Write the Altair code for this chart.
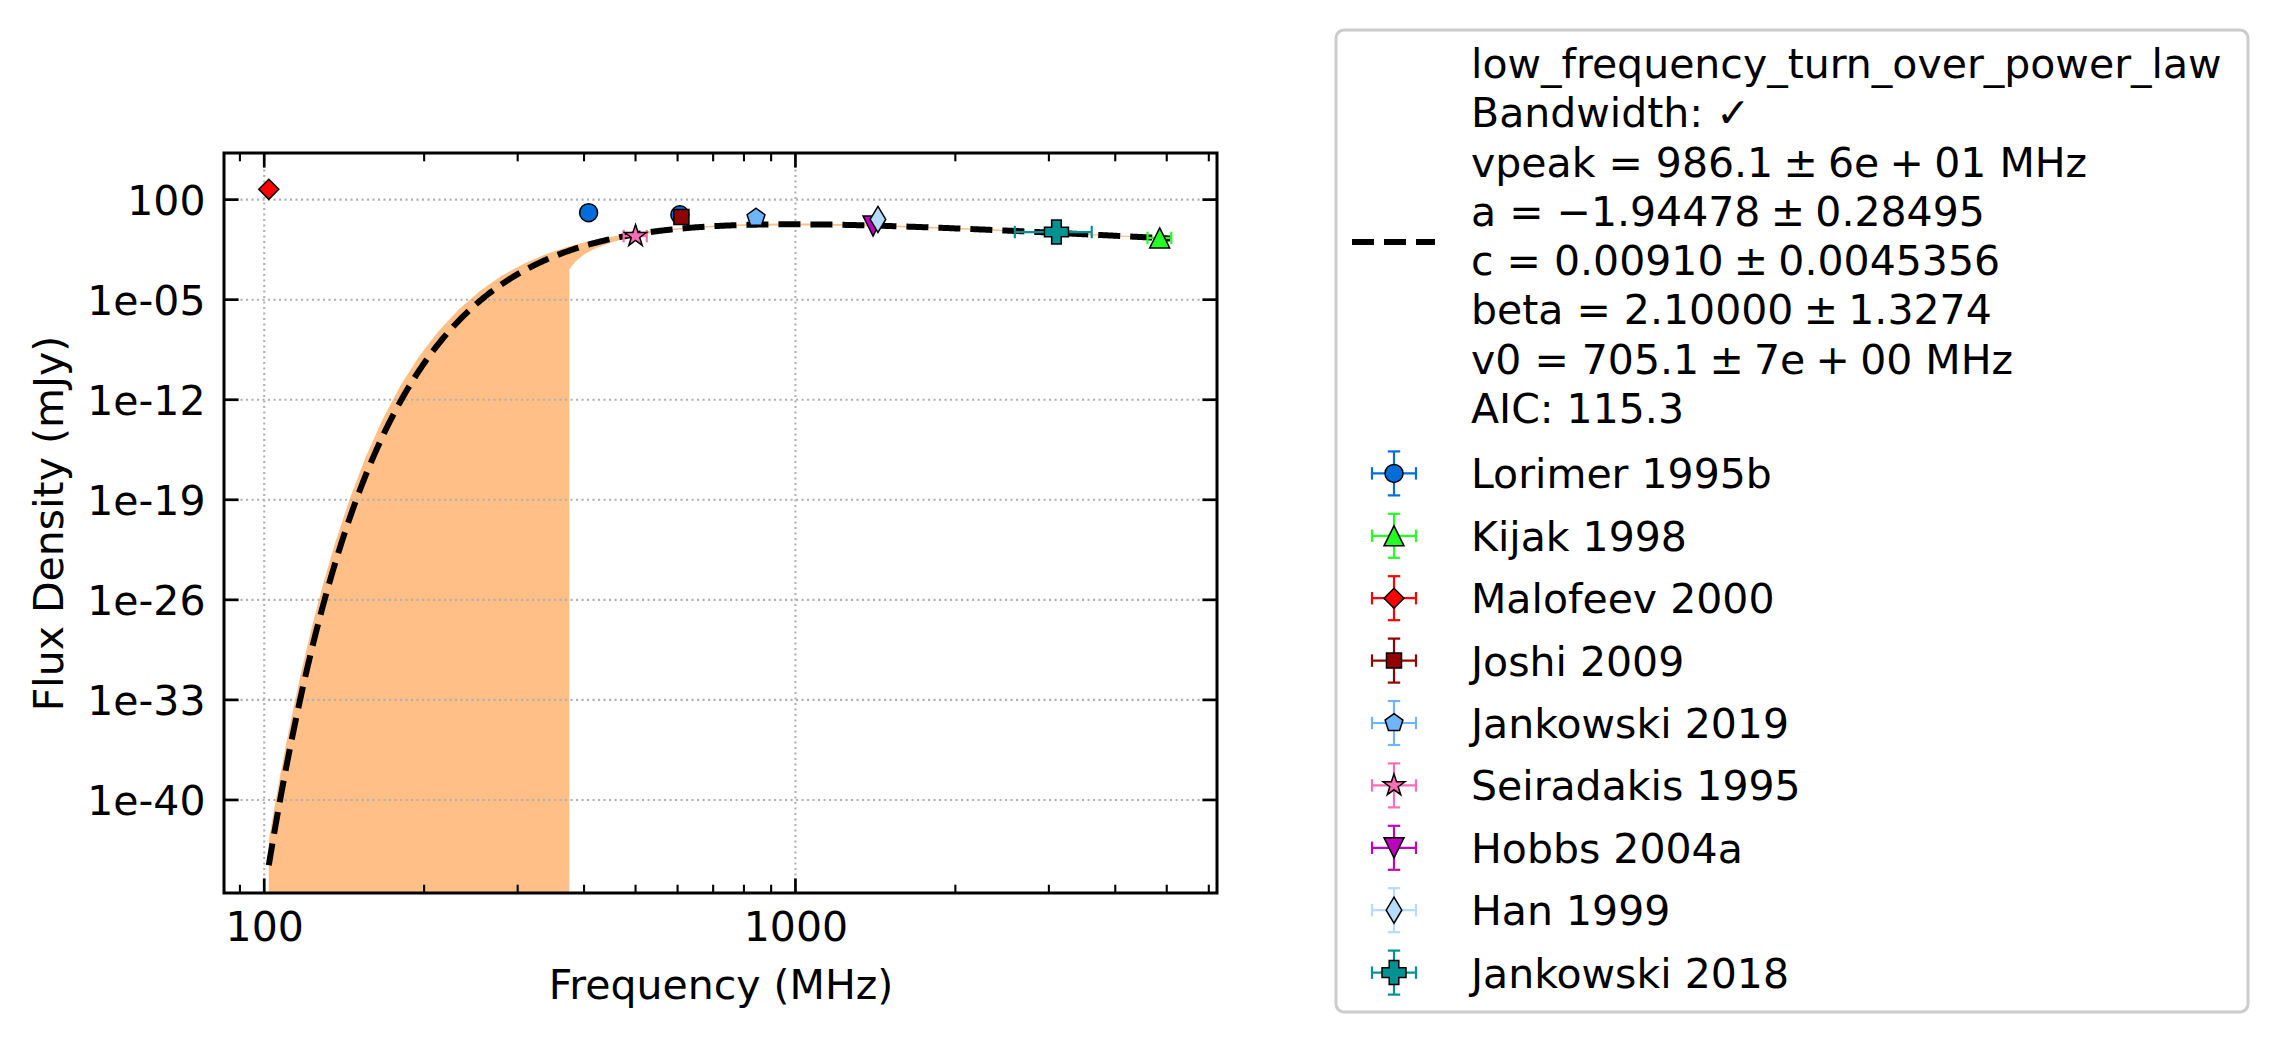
import altair as alt
import numpy as np
import pandas as pd

FONT = "DejaVu Sans"
FS = 41

# ---------------- data ----------------
sources = ["Lorimer 1995b", "Kijak 1998", "Malofeev 2000", "Joshi 2009",
           "Jankowski 2019", "Seiradakis 1995", "Hobbs 2004a", "Han 1999",
           "Jankowski 2018"]
colors = ["#006ddb", "#24ff24", "#ff0000", "#920000", "#6db6ff",
          "#ff6db6", "#bf00bf", "#b6dbff", "#009292"]

pt_source = ["Lorimer 1995b", "Lorimer 1995b", "Kijak 1998", "Malofeev 2000",
             "Joshi 2009", "Jankowski 2019", "Seiradakis 1995", "Hobbs 2004a",
             "Han 1999", "Jankowski 2018"]
pt_freq = [408, 606, 4850, 102, 610, 843, 500, 1400, 1430, 3100]
pt_flux = [12.3, 8.7, 0.21, 525.0, 6.1, 5.5, 0.28, 1.4, 4.1, 0.54]
pt_freq_err = [0, 0, 250, 0, 0, 0, 25, 0, 0, 512]

# fitted model (parameters as printed in the legend)
fit_vpeak, fit_a, fit_c, fit_beta, fit_v0 = 986.1, -1.94478, 0.00910, 2.10000, 705.1
fit_freq_range = [102.0, 5080.0]
legend_lines = [
    "low_frequency_turn_over_power_law",
    "Bandwidth: \u2713",
    "vpeak = 986.1\u2005\u00b1\u20056e\u2005+\u200501 MHz",
    "a = \u22121.94478\u2005\u00b1\u20050.28495",
    "c = 0.00910\u2005\u00b1\u20050.0045356",
    "beta = 2.10000\u2005\u00b1\u20051.3274",
    "v0 = 705.1\u2005\u00b1\u20057e\u2005+\u200500 MHz",
    "AIC: 115.3",
]

# uncertainty band: relative (linear) error of the fit read at these frequencies
band_freq = [102, 104, 107, 110, 114, 118, 123, 129, 136, 145,
             155, 167, 180, 195, 212, 232, 255, 280, 310, 340,
             375.2, 375.3, 385, 400, 420, 448, 480, 520, 570, 640,
             720, 820, 950, 1100, 1300, 1600, 2000, 2600, 3300, 4100,
             5080]
band_rel_err = [55, 52, 49, 45, 41, 37, 33, 29, 25, 21,
                17.6, 14.2, 11.5, 9.0, 7.0, 5.3, 3.95, 2.9, 2.05, 1.45,
                1.0, 0.95, 0.88, 0.75, 0.6, 0.43, 0.3, 0.19, 0.12, 0.1,
                0.13, 0.15, 0.16, 0.16, 0.15, 0.135, 0.12, 0.11, 0.1, 0.1,
                0.1]

x_major = [100, 1000]
x_minor = [90, 200, 300, 400, 500, 600, 700, 800, 900,
           2000, 3000, 4000, 5000, 6000]
y_major = [1e2, 1e-5, 1e-12, 1e-19, 1e-26, 1e-33, 1e-40]


def model(v):
    v = np.asarray(v, dtype=float)
    return 1000.0 * fit_c * (v / fit_v0) ** fit_a * np.exp(
        fit_a / fit_beta * (v / fit_vpeak) ** (-fit_beta))


# ---------------- marker shapes ----------------
def poly(points):
    return "M" + "L".join(f"{x:.4f},{y:.4f}" for x, y in points) + "Z"


pent = poly([(np.sin(2 * np.pi * k / 5), -np.cos(2 * np.pi * k / 5)) for k in range(5)])
star = poly([((1.0 if k % 2 == 0 else 0.381966) * np.sin(np.pi * k / 5),
              -(1.0 if k % 2 == 0 else 0.381966) * np.cos(np.pi * k / 5)) for k in range(10)])
tri_up = "M0,-1L1,1L-1,1Z"
tri_down = "M0,1L1,-1L-1,-1Z"
thin_diamond = "M0,-1L0.6,0L0,1L-0.6,0Z"

marker_shape = {"Lorimer 1995b": "circle", "Kijak 1998": tri_up,
                "Malofeev 2000": "diamond", "Joshi 2009": "square",
                "Jankowski 2019": pent, "Seiradakis 1995": star,
                "Hobbs 2004a": tri_down, "Han 1999": thin_diamond,
                "Jankowski 2018": "cross"}
marker_size = {"Lorimer 1995b": 324, "Kijak 1998": 400, "Malofeev 2000": 400,
               "Joshi 2009": 225, "Jankowski 2019": 353, "Seiradakis 1995": 530,
               "Hobbs 2004a": 400, "Han 1999": 676, "Jankowski 2018": 576}

# ---------------- tables ----------------
pts = pd.DataFrame({"source": pt_source, "freq": pt_freq, "flux": pt_flux,
                    "xerr": pt_freq_err})
pts["xlo"] = pts["freq"] - pts["xerr"]
pts["xhi"] = pts["freq"] + pts["xerr"]
pts_err = pts[pts["xerr"] > 0]

fit_f = np.logspace(np.log10(fit_freq_range[0]), np.log10(fit_freq_range[1]), 700)
fit_df = pd.DataFrame({"f": fit_f, "s": model(fit_f)})

bf = np.array(band_freq, dtype=float)
br = np.array(band_rel_err, dtype=float)
bm = model(bf)
band_df = pd.DataFrame({"f": bf, "hi": bm * (1 + br),
                        "lo": np.where(br < 1, bm * (1 - br), 1e-60)})

# ---------------- layout ----------------
PL, PT = 224, 153
W, H = 993, 740

xs = alt.Scale(type="log", domain=[84.0, 6217.0], nice=False)
ys = alt.Scale(type="log", domain=[10 ** -46.51, 10 ** 5.262], nice=False)
cs = alt.Scale(domain=sources, range=colors)

XAX = alt.Axis(values=x_major, format="d", title="Frequency (MHz)",
               grid=False, ticks=False, domain=False,
               labelFont=FONT, labelFontSize=FS, labelColor="black",
               labelPadding=47.7, labelBaseline="alphabetic",
               labelFlush=False, labelOverlap=False, labelBound=False,
               titleFont=FONT, titleFontSize=FS, titleFontWeight="normal",
               titleColor="black", titleX=W / 2, titleY=105.7,
               titleBaseline="alphabetic", titleAlign="center")
YAX = alt.Axis(values=y_major,
               labelExpr="datum.value >= 1 ? format(datum.value, 'd') : "
                         "'1e-' + pad(format(round(-log(datum.value) / LN10), 'd'), 2, '0', 'left')",
               title="Flux Density (mJy)",
               grid=False, ticks=False, domain=False,
               labelFont=FONT, labelFontSize=FS, labelColor="black",
               labelPadding=19, labelBaseline="alphabetic", labelOffset=14.5,
               labelOverlap=False, labelBound=False, labelFlush=False,
               titleFont=FONT, titleFontSize=FS, titleFontWeight="normal",
               titleColor="black", titleX=-162, titleY=H / 2, titleAngle=270,
               titleBaseline="alphabetic", titleAlign="center")


def X(field):
    return alt.X(f"{field}:Q", scale=xs, axis=XAX)


def Y(field):
    return alt.Y(f"{field}:Q", scale=ys, axis=YAX)


xmaj_df = pd.DataFrame({"v": x_major})
xmin_df = pd.DataFrame({"v": x_minor})
ymaj_df = pd.DataFrame({"v": y_major})
one = pd.DataFrame({"k": [0]})

band = alt.Chart(band_df).mark_area(clip=True, color="#ff7f0e", opacity=0.5).encode(
    x=X("f"), y=Y("hi"), y2="lo")

grid_kw = dict(color="#b0b0b0", strokeWidth=2.1, strokeDash=[2.1, 3.4])
gridx = alt.Chart(xmaj_df).mark_rule(**grid_kw).encode(
    x=X("v"), y=alt.value(0), y2=alt.value(H))
gridy = alt.Chart(ymaj_df).mark_rule(**grid_kw).encode(
    y=Y("v"), x=alt.value(0), x2=alt.value(W))

MAJ, MIN = 14.6, 8.3
tick_layers = [
    alt.Chart(xmaj_df).mark_rule(color="black", strokeWidth=2.7).encode(
        x=X("v"), y=alt.value(H), y2=alt.value(H - MAJ)),
    alt.Chart(xmaj_df).mark_rule(color="black", strokeWidth=2.7).encode(
        x=X("v"), y=alt.value(0), y2=alt.value(MAJ)),
    alt.Chart(xmin_df).mark_rule(color="black", strokeWidth=2.1).encode(
        x=X("v"), y=alt.value(H), y2=alt.value(H - MIN)),
    alt.Chart(xmin_df).mark_rule(color="black", strokeWidth=2.1).encode(
        x=X("v"), y=alt.value(0), y2=alt.value(MIN)),
    alt.Chart(ymaj_df).mark_rule(color="black", strokeWidth=2.7).encode(
        y=Y("v"), x=alt.value(0), x2=alt.value(MAJ)),
    alt.Chart(ymaj_df).mark_rule(color="black", strokeWidth=2.7).encode(
        y=Y("v"), x=alt.value(W), x2=alt.value(W - MAJ)),
]
spines = alt.Chart(one).mark_rect(fillOpacity=0, fill="white", stroke="black",
                                  strokeWidth=3).encode(
    x=alt.value(0), x2=alt.value(W), y=alt.value(0), y2=alt.value(H))

fit_line = alt.Chart(fit_df).mark_line(clip=True, color="black", strokeWidth=6,
                                       strokeDash=[22, 10]).encode(
    x=X("f"), y=Y("s"))

col = alt.Color("source:N", scale=cs, legend=None)
err_layers = [
    alt.Chart(pts_err).mark_rule(strokeWidth=2.2).encode(
        x=X("xlo"), x2="xhi", y=Y("flux"), color=col),
    alt.Chart(pts_err).mark_rule(strokeWidth=2.2, yOffset=-6.2, y2Offset=6.2).encode(
        x=X("xlo"), y=Y("flux"), y2="flux", color=col),
    alt.Chart(pts_err).mark_rule(strokeWidth=2.2, yOffset=-6.2, y2Offset=6.2).encode(
        x=X("xhi"), y=Y("flux"), y2="flux", color=col),
]

marker_layers = []
for s, c in zip(sources, colors):
    d = pts[pts["source"] == s]
    marker_layers.append(
        alt.Chart(d).mark_point(shape=marker_shape[s], size=marker_size[s], filled=True,
                                fill=c, stroke="black", strokeWidth=1.5,
                                opacity=1, fillOpacity=1, strokeOpacity=1).encode(
            x=X("freq"), y=Y("flux")))

main = alt.layer(band, gridx, gridy, *tick_layers, spines, fit_line, *err_layers,
                 *marker_layers)

# ---------------- legend ----------------
frame = alt.Chart(one).mark_rect(cornerRadius=8, fill="white", stroke="#cccccc",
                                 strokeWidth=3).encode(
    x=alt.value(1112), x2=alt.value(2024), y=alt.value(-123), y2=alt.value(859))
handle = alt.Chart(one).mark_rule(color="black", strokeWidth=6, strokeDash=[22, 10]).encode(
    x=alt.value(1128), x2=alt.value(1211), y=alt.value(89))
lines_df = pd.DataFrame({"i": range(len(legend_lines)), "t": legend_lines})
text_block = alt.Chart(lines_df).mark_text(align="left", baseline="alphabetic", font=FONT,
                                           fontSize=FS, color="black").encode(
    x=alt.value(1247),
    y=alt.Y("i:Q", scale=alt.Scale(domain=[0, 7], range=[-75, 270]), axis=None),
    text="t:N")

entries = pd.DataFrame({"source": sources, "row": range(len(sources))})
ry = alt.Y("row:Q", scale=alt.Scale(domain=[0, 8], range=[320.4, 819.6]), axis=None)
HX = 1170
ent_layers = [
    alt.Chart(entries).mark_rule(strokeWidth=2.2).encode(
        x=alt.value(HX - 22), x2=alt.value(HX + 22), y=ry, color=col),
    alt.Chart(entries).mark_rule(strokeWidth=2.2, yOffset=-22, y2Offset=22).encode(
        x=alt.value(HX), y=ry, y2="row:Q", color=col),
    alt.Chart(entries).mark_rule(strokeWidth=2.2, yOffset=-6.2, y2Offset=6.2).encode(
        x=alt.value(HX - 22), y=ry, y2="row:Q", color=col),
    alt.Chart(entries).mark_rule(strokeWidth=2.2, yOffset=-6.2, y2Offset=6.2).encode(
        x=alt.value(HX + 22), y=ry, y2="row:Q", color=col),
    alt.Chart(entries).mark_rule(strokeWidth=2.2, yOffset=-22).encode(
        x=alt.value(HX - 6.2), x2=alt.value(HX + 6.2), y=ry, color=col),
    alt.Chart(entries).mark_rule(strokeWidth=2.2, yOffset=22).encode(
        x=alt.value(HX - 6.2), x2=alt.value(HX + 6.2), y=ry, color=col),
]
for s, c in zip(sources, colors):
    d = entries[entries["source"] == s]
    ent_layers.append(
        alt.Chart(d).mark_point(shape=marker_shape[s], size=marker_size[s], filled=True,
                                fill=c, stroke="black", strokeWidth=1.5,
                                opacity=1, fillOpacity=1, strokeOpacity=1).encode(
            x=alt.value(HX), y=ry))
ent_layers.append(
    alt.Chart(entries).mark_text(align="left", baseline="alphabetic", font=FONT,
                                 fontSize=FS, color="black", dy=15).encode(
        x=alt.value(1247), y=ry, text="source:N"))
legend_entries = alt.layer(*ent_layers)

chart = alt.layer(main, frame, handle, text_block, legend_entries).resolve_scale(
    x="independent", y="independent"
).properties(
    width=W, height=H,
    autosize=alt.AutoSizeParams(type="none"),
    padding={"left": PL, "top": PT, "right": 2277 - PL - W, "bottom": 1046 - PT - H},
).configure_view(strokeWidth=0).configure(background="white")

chart.save("out.html", embed_options={"renderer": "svg", "actions": False})
